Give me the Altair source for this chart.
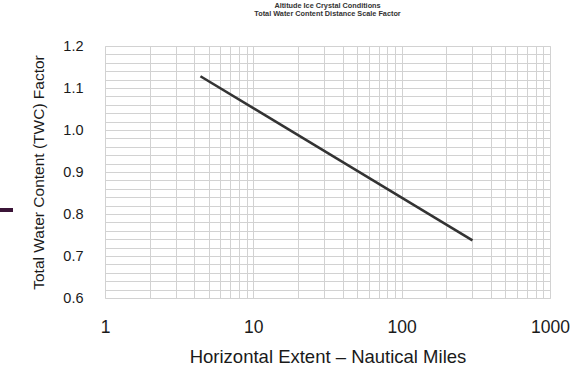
import altair as alt
import pandas as pd

# Data
extent_nm = [4.4, 300]
twc_factor = [1.128, 0.737]

x_grid = [d * 10 ** k for k in range(3) for d in range(1, 10)] + [1000]
y_grid = [round(0.6 + 0.02 * i, 2) for i in range(31)]

title_lines = ["Altitude Ice Crystal Conditions", "Total Water Content Distance Scale Factor"]
x_title = "Horizontal Extent \u2013 Nautical Miles"
y_title = "Total Water Content (TWC) Factor"

df = pd.DataFrame({"x": extent_nm, "y": twc_factor})

FONT = "Liberation Sans"

line = alt.Chart(df).mark_line(color="#333333", strokeWidth=2.6).encode(
    x=alt.X(
        "x:Q",
        scale=alt.Scale(type="log", domain=[1, 1000], nice=False),
        axis=alt.Axis(
            values=x_grid,
            labelExpr="(datum.value==1||datum.value==10||datum.value==100||datum.value==1000) ? format(datum.value,'d') : ''",
            labelOverlap=False,
            labelFlush=False,
            ticks=False,
            domain=False,
            grid=True,
            gridColor="#d2d2d2",
            gridWidth=1,
            labelFont=FONT,
            labelFontSize=17.5,
            labelColor="#1a1a1a",
            labelPadding=20,
            title=x_title,
            titleFont=FONT,
            titleFontSize=18.5,
            titleFontWeight="normal",
            titleColor="#1a1a1a",
            titlePadding=12,
        ),
    ),
    y=alt.Y(
        "y:Q",
        scale=alt.Scale(domain=[0.6, 1.2], zero=False, nice=False),
        axis=alt.Axis(
            values=y_grid,
            labelExpr="abs(datum.value*10 - round(datum.value*10)) < 0.001 ? format(datum.value,'.1f') : ''",
            labelOverlap=False,
            labelFlush=False,
            ticks=False,
            domain=False,
            grid=True,
            gridColor="#d2d2d2",
            gridWidth=1,
            labelFont=FONT,
            labelFontSize=14.5,
            labelColor="#1a1a1a",
            labelPadding=22,
            title=y_title,
            titleFont=FONT,
            titleFontSize=15.5,
            titleFontWeight="normal",
            titleColor="#1a1a1a",
            titlePadding=16,
        ),
    ),
)

# small dark purple bar at the far left edge of the scanned slide
accent = alt.Chart(df).mark_rule(color="#3b1538", strokeWidth=4).encode(
    x=alt.value(-105), x2=alt.value(-92), y=alt.value(164)
)

chart = alt.layer(line, accent).properties(
    width=445,
    height=252,
    autosize="none",
    padding={"left": 105, "top": 46, "right": 35, "bottom": 70},
    title=alt.TitleParams(
        text=title_lines,
        font=FONT,
        fontSize=7.3,
        fontWeight="bold",
        color="#333333",
        anchor="middle",
        offset=21,
        lineHeight=7.5,
    ),
).configure_view(stroke="#bdbdbd", strokeWidth=1.2).configure(background="white")

chart.save("out.html", embed_options={"renderer": "svg", "actions": False})
